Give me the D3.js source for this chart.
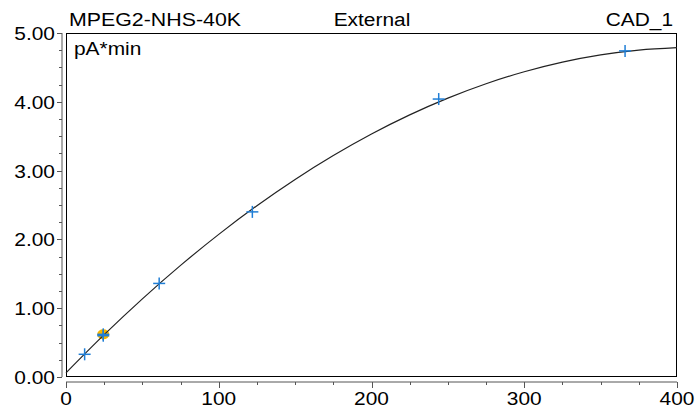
<!DOCTYPE html>
<html><head><meta charset="utf-8">
<script src="https://cdn.jsdelivr.net/npm/d3@7"></script>
<style>body{margin:0;background:#fff}svg{display:block}text{font-family:"Liberation Sans",Arial,sans-serif;fill:#000}</style>
</head><body><svg id="c" width="695" height="408"></svg>
<script>
const xTicks=[0,100,200,300,400];
const yTicks=[0,1,2,3,4,5];
const pointX=[12.2,24.4,24.4,61,122,244,366];
const pointY=[0.33,0.62,0.60,1.36,2.40,4.04,4.74];
const highlightX=[24.4];
const highlightY=[0.62];
const curveX=[0,25,50,75,100,125,150,175,200,225,250,275,300,325,350,375,400];
const curveY=[0.06,0.615,1.136,1.622,2.073,2.490,2.872,3.219,3.532,3.810,4.054,4.263,4.437,4.577,4.682,4.752,4.788];

const svg=d3.select("#c");
const L=66,R=677,T=33,B=377;
const FS=19, SX=1.1;
const x=d3.scaleLinear().domain([0,400]).range([L,R]);
const y=d3.scaleLinear().domain([0,5]).range([B,T]);

function label(sel,tx,ty,anchor,str,len){
  const t=sel.append("text").attr("transform",`translate(${tx},${ty}) scale(${SX},1)`)
    .attr("text-anchor",anchor).attr("font-size",FS).text(str);
  if(len){t.attr("transform",`translate(${tx},${ty})`).attr("textLength",len).attr("lengthAdjust","spacingAndGlyphs");}
  return t;
}

// y axis
const ya=svg.append("g").attr("transform","translate(62,0)");
ya.append("line").attr("y1",T).attr("y2",B).attr("stroke","#555").attr("stroke-width",1);
ya.selectAll(".mn").data(d3.range(0,5.001,0.25)).join("line").attr("x1",0).attr("x2",d=>Number.isInteger(d)?-5:-3)
  .attr("y1",d=>Math.round(y(d))+0.5).attr("y2",d=>Math.round(y(d))+0.5).attr("stroke","#555");
yTicks.forEach(d=>label(ya,-7,y(d)+7,"end",d3.format(".2f")(d)));

// x axis
const xa=svg.append("g").attr("transform","translate(0,382)");
xa.append("line").attr("x1",L).attr("x2",R).attr("stroke","#555");
xa.selectAll(".mn").data(d3.range(0,400.1,25)).join("line").attr("y1",0).attr("y2",d=>d%100===0?6:3)
  .attr("x1",d=>Math.round(x(d))+0.5).attr("x2",d=>Math.round(x(d))+0.5).attr("stroke","#555");
xTicks.forEach(d=>label(xa,x(d),23,"middle",String(d)));

// box
svg.append("rect").attr("x",L+0.5).attr("y",T+0.5).attr("width",R-L-1).attr("height",B-T-1)
  .attr("fill","none").attr("stroke","#000").attr("stroke-width",1);

// titles
label(svg,69,26,"start","MPEG2-NHS-40K",172);
label(svg,372,26,"middle","External");
label(svg,673,26,"end","CAD_1");
label(svg,74,55,"start","pA*min");

// highlight
svg.selectAll(".hl").data(highlightX).join("ellipse").attr("cx",(d)=>x(d)).attr("cy",(d,i)=>y(highlightY[i]))
  .attr("rx",6).attr("ry",5).attr("fill","#f5b400");

// curve
const line=d3.line().x(d=>x(d[0])).y(d=>y(d[1])).curve(d3.curveMonotoneX);
svg.append("path").datum(curveX.map((v,i)=>[v,curveY[i]])).attr("d",line)
  .attr("fill","none").attr("stroke","#222").attr("stroke-width",1.2);

// points
const pts=svg.selectAll(".p").data(pointX.map((v,i)=>[v,pointY[i]])).join("g")
  .attr("transform",d=>`translate(${x(d[0])},${y(d[1])})`);
pts.append("line").attr("x1",-6).attr("x2",6).attr("stroke","#1f7ed6").attr("stroke-width",1.5);
pts.append("line").attr("y1",-6).attr("y2",6).attr("stroke","#1f7ed6").attr("stroke-width",1.5);
</script></body></html>
